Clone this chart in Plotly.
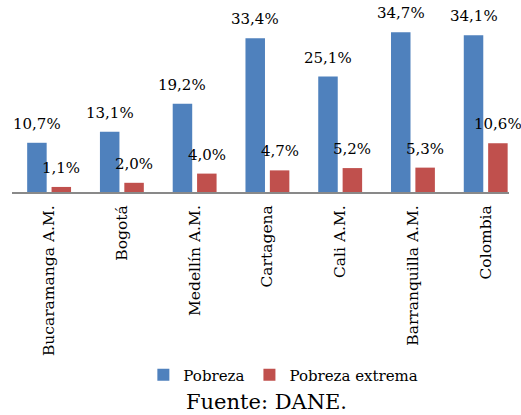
import plotly.graph_objects as go

categories = ["Bucaramanga A.M.", "Bogotá", "Medellín A.M.", "Cartagena",
              "Cali A.M.", "Barranquilla A.M.", "Colombia"]
pobreza = [10.7, 13.1, 19.2, 33.4, 25.1, 34.7, 34.1]
pobreza_extrema = [1.1, 2.0, 4.0, 4.7, 5.2, 5.3, 10.6]
series_names = ["Pobreza", "Pobreza extrema"]
source_text = "Fuente: DANE."

BLUE = "#4F81BD"
RED = "#C0504D"
FONT = "DejaVu Serif"


def fmt(v):
    return f"{v:.1f}".replace(".", ",") + "%"


fig = go.Figure()
fig.add_trace(go.Bar(x=categories, y=pobreza, name=series_names[0],
                     marker=dict(color=BLUE, line=dict(width=0))))
fig.add_trace(go.Bar(x=categories, y=pobreza_extrema, name=series_names[1],
                     marker=dict(color=RED, line=dict(width=0))))

annotations = []
for cat, v in zip(categories, pobreza):
    annotations.append(dict(x=cat, y=v, text=fmt(v), showarrow=False,
                            xshift=-12.2, yanchor="bottom", yshift=8,
                            font=dict(family=FONT, size=15, color="#000")))
for cat, v in zip(categories, pobreza_extrema):
    annotations.append(dict(x=cat, y=v, text=fmt(v), showarrow=False,
                            xshift=12.2, yanchor="bottom", yshift=8,
                            font=dict(family=FONT, size=15, color="#000")))
annotations.append(dict(x=0.513, y=-1.125, xref="paper", yref="paper",
                        text=source_text, showarrow=False,
                        xanchor="center", yanchor="middle",
                        font=dict(family=FONT, size=21, color="#000")))

fig.update_layout(
    width=521, height=415,
    margin=dict(l=12, r=12, t=5, b=223, autoexpand=False),
    paper_bgcolor="white", plot_bgcolor="white",
    barmode="group", bargap=0.33, bargroupgap=0.2,
    font=dict(family=FONT, size=15, color="#000"),
    showlegend=True,
    legend=dict(orientation="h", x=0.546, xanchor="center", y=-0.979,
                yanchor="middle", font=dict(family=FONT, size=15, color="#000"),
                itemwidth=30, tracegroupgap=0, bgcolor="rgba(0,0,0,0)"),
    annotations=annotations,
)
fig.update_xaxes(type="category", range=[-0.51, 6.32], showline=True,
                 linecolor="#898989", linewidth=2, ticks="", tickangle=-90,
                 tickfont=dict(family=FONT, size=15.5, color="#000"),
                 ticklabelstandoff=5, automargin=False, showgrid=False,
                 fixedrange=True)
fig.update_yaxes(range=[0, 40.65], visible=False, showgrid=False,
                 zeroline=False, automargin=False, fixedrange=True)

fig.write_html(
    "out.html",
    config={"displayModeBar": False, "staticPlot": False},
    post_script="document.body.style.margin='0';document.body.style.overflow='hidden';",
)
